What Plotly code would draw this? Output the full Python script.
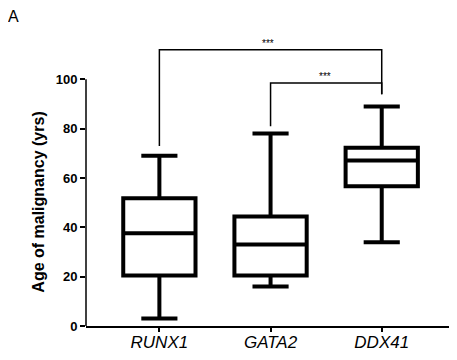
import plotly.graph_objects as go

genes = ["RUNX1", "GATA2", "DDX41"]
lower_whisker = [3, 16, 34]
q1 = [20.5, 20.5, 56.7]
median = [37.6, 33, 67.1]
q3 = [51.8, 44.4, 72.3]
upper_whisker = [69, 78, 89]

y_ticks = [0, 20, 40, 60, 80, 100]

# significance brackets
outer_x = ["RUNX1", "RUNX1", "DDX41", "DDX41"]
outer_y = [73, 112, 112, 94]
inner_x = ["GATA2", "GATA2", "DDX41", "DDX41"]
inner_y = [81, 98.5, 98.5, 94]
sig_label = "***"

fig = go.Figure()
fig.add_trace(go.Box(
    x=genes, q1=q1, median=median, q3=q3,
    lowerfence=lower_whisker, upperfence=upper_whisker,
    width=0.65, whiskerwidth=0.5, boxpoints=False,
    fillcolor="white", line=dict(color="black", width=4),
    showlegend=False, hoverinfo="skip",
))
for bx, by in [(outer_x, outer_y), (inner_x, inner_y)]:
    fig.add_trace(go.Scatter(x=bx, y=by, mode="lines",
                             line=dict(color="black", width=1.5),
                             showlegend=False, hoverinfo="skip"))

fig.add_annotation(x=0.98, y=112, xref="x", yref="y", text=sig_label, showarrow=False,
                   yanchor="bottom", yshift=-1,
                   font=dict(size=10, color="black", family="Liberation Sans"))
fig.add_annotation(x=1.49, y=98.5, xref="x", yref="y", text=sig_label, showarrow=False,
                   yanchor="bottom", yshift=-1,
                   font=dict(size=10, color="black", family="Liberation Sans"))

# y axis title
fig.add_annotation(x=0, y=50, xref="paper", yref="y", xshift=-47, text="Age of malignancy (yrs)",
                   textangle=-90, showarrow=False, xanchor="center", yanchor="middle",
                   font=dict(size=16, color="black", family="Liberation Sans", weight="bold"))
# panel label
fig.add_annotation(x=-0.216, y=1.045, xref="paper", yref="paper", text="A", showarrow=False,
                   xanchor="left", yanchor="middle",
                   font=dict(size=16, color="black", family="Liberation Sans"))

# y axis line (only up to 100)
fig.add_shape(type="line", xref="paper", yref="y", x0=0, x1=0, y0=0, y1=100,
              line=dict(color="black", width=1.5))

fig.update_layout(
    width=449, height=352,
    margin=dict(l=78, r=1, t=22, b=34),
    paper_bgcolor="white", plot_bgcolor="white",
    xaxis=dict(type="category", range=[-0.66, 2.668], showline=True, linecolor="black",
               linewidth=1.5, ticks="outside", ticklen=4, tickwidth=1.5, tickcolor="black",
               showgrid=False, zeroline=False, ticklabelstandoff=-4,
               tickfont=dict(size=17, color="black", family="Liberation Sans", style="italic")),
    yaxis=dict(range=[0, 120], showline=False, tickvals=y_ticks, ticks="outside", ticklen=5,
               tickwidth=1.5, tickcolor="black", showgrid=False, zeroline=False,
               tickfont=dict(size=13, color="black", family="Liberation Sans", weight="bold")),
)

fig.write_html("out.html")
